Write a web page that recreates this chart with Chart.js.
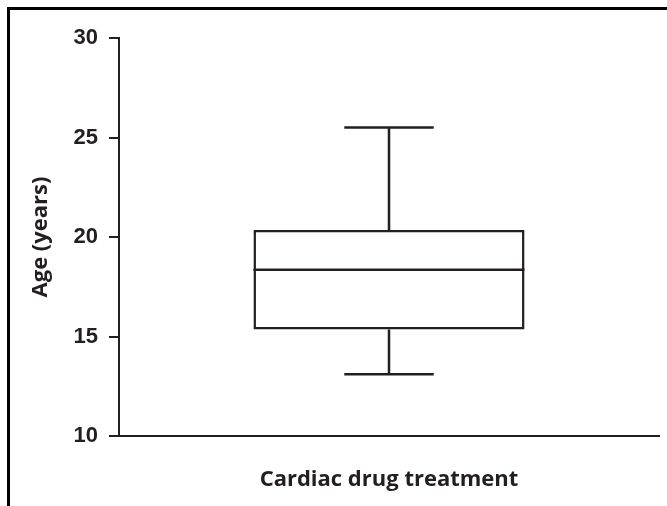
<!DOCTYPE html>
<html>
<head>
<meta charset="utf-8">
<script src="https://cdn.jsdelivr.net/npm/chart.js@4.4.1/dist/chart.umd.min.js"></script>
<style>
  html, body { margin: 0; padding: 0; background: #fff; }
  #wrap { position: relative; width: 667px; height: 506px; overflow: hidden; }
  #frame { position: absolute; left: 7px; top: 7px; right: 0; bottom: 0;
           border-left: 3px solid #000; border-top: 3px solid #000; }
  #chart { position: absolute; left: 0; top: 0; }
</style>
</head>
<body>
<div id="wrap"><div id="frame"></div><canvas id="chart" width="667" height="506"></canvas></div>
<script>
// Box plot: age of patients on cardiac drug treatment.
var groups = ['Cardiac drug treatment'];
var whiskerLow = [13.1];
var quartile1 = [15.35];
var medians = [18.35];
var quartile3 = [20.35];
var whiskerHigh = [25.5];
var yTicks = [10, 15, 20, 25, 30];
var yTitle = 'Age (years)';
var xTitle = 'Cardiac drug treatment';

var ink = '#231f20';

// median line + whiskers, drawn on top of the floating bar that forms the box
var boxWhiskers = {
  id: 'boxWhiskers',
  afterDatasetsDraw: function (chart) {
    var meta = chart.getDatasetMeta(0);
    var y = chart.scales.y;
    var ctx = chart.ctx;
    ctx.save();
    ctx.strokeStyle = ink;
    ctx.lineWidth = 2.5;
    meta.data.forEach(function (bar, i) {
      var p = bar.getProps(['x', 'width'], true);
      var half = p.width / 2;
      var cap = p.width * 0.165;
      var yLo = y.getPixelForValue(whiskerLow[i]);
      var yQ1 = y.getPixelForValue(quartile1[i]);
      var yMed = y.getPixelForValue(medians[i]);
      var yQ3 = y.getPixelForValue(quartile3[i]);
      var yHi = y.getPixelForValue(whiskerHigh[i]);
      ctx.beginPath();
      ctx.moveTo(p.x - half, yMed); ctx.lineTo(p.x + half, yMed);
      ctx.moveTo(p.x, yQ3); ctx.lineTo(p.x, yHi);
      ctx.moveTo(p.x - cap, yHi); ctx.lineTo(p.x + cap, yHi);
      ctx.moveTo(p.x, yQ1); ctx.lineTo(p.x, yLo);
      ctx.moveTo(p.x - cap, yLo); ctx.lineTo(p.x + cap, yLo);
      ctx.stroke();
    });
    ctx.restore();
  }
};

new Chart(document.getElementById('chart'), {
  type: 'bar',
  data: {
    labels: groups,
    datasets: [{
      data: groups.map(function (g, i) { return [quartile1[i], quartile3[i]]; }),
      backgroundColor: '#ffffff',
      borderColor: ink,
      borderWidth: 2.5,
      borderSkipped: false,
      barPercentage: 0.502,
      categoryPercentage: 1
    }]
  },
  options: {
    responsive: false,
    animation: false,
    layout: { padding: { top: 38, right: 8, left: 0, bottom: 0 } },
    plugins: { legend: { display: false }, tooltip: { enabled: false } },
    scales: {
      x: {
        ticks: { display: false },
        grid: { display: false },
        border: { display: true, color: ink, width: 2 },
        title: {
          display: true, text: xTitle, color: ink,
          font: { family: 'Open Sans', weight: 'bold', size: 22 },
          padding: { top: 0, bottom: 13 }
        },
        afterFit: function (s) { s.height = 70; }
      },
      y: {
        min: 10, max: 30,
        afterBuildTicks: function (s) { s.ticks = yTicks.map(function (v) { return { value: v }; }); },
        ticks: {
          color: ink, padding: 11,
          font: { family: 'Liberation Sans', weight: 'bold', size: 22 }
        },
        grid: { drawOnChartArea: false, drawTicks: true, tickLength: 10, color: ink, lineWidth: 2 },
        border: { display: true, color: ink, width: 2 },
        title: {
          display: true, text: yTitle, color: ink,
          font: { family: 'Open Sans', weight: 'bold', size: 22 },
          padding: { top: 28, bottom: 0 }
        },
        afterFit: function (s) { s.width = 119; }
      }
    }
  },
  plugins: [boxWhiskers]
});
</script>
</body>
</html>
